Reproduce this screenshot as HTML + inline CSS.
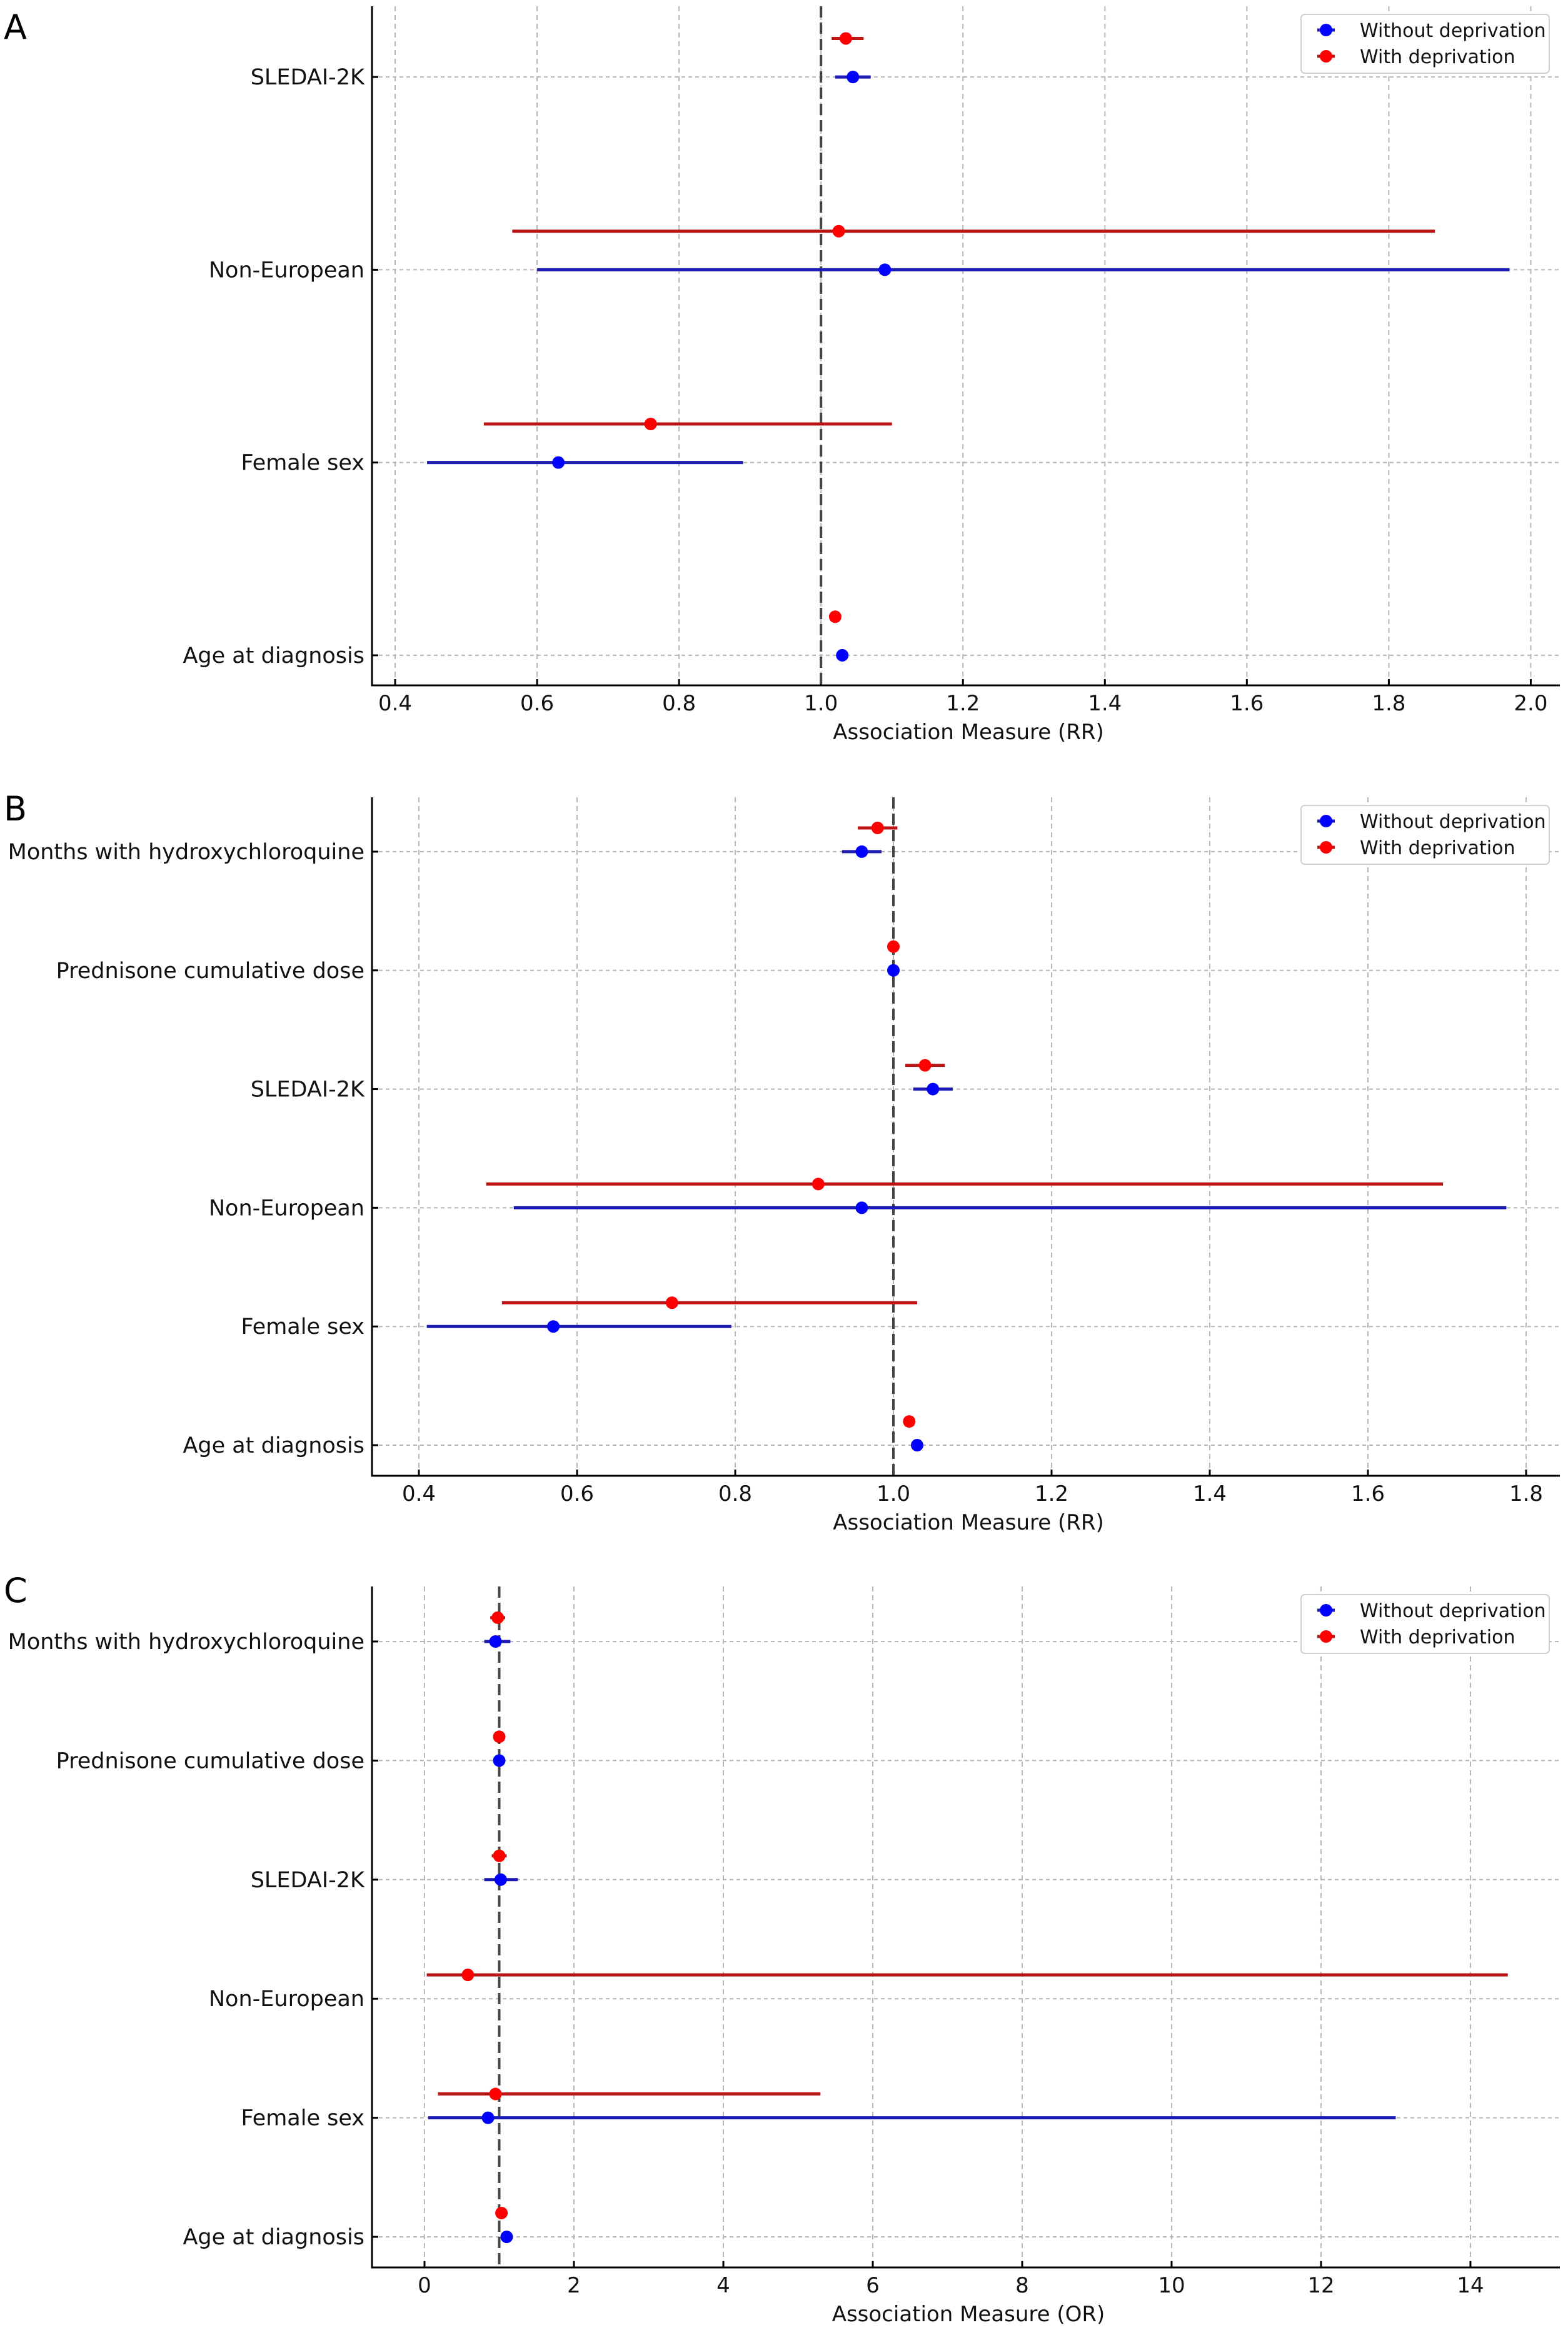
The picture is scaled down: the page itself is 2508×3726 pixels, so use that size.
<!DOCTYPE html>
<html><head><meta charset="utf-8"><style>
html,body{margin:0;padding:0;background:#fff;}
svg{display:block;font-family:"DejaVu Sans","Liberation Sans",sans-serif;}
</style></head>
<body>
<svg id="fig" width="2508" height="3726" viewBox="0 0 2508 3726" xmlns="http://www.w3.org/2000/svg"></svg>
<script>
// ---- Panel A data ----
const catsA = ["Age at diagnosis","Female sex","Non-European","SLEDAI-2K"];
const blueEstA = [1.03, 0.63, 1.09, 1.045];
const blueLoA  = [1.025, 0.445, 0.60, 1.02];
const blueHiA  = [1.035, 0.89, 1.97, 1.07];
const redEstA  = [1.02, 0.76, 1.025, 1.035];
const redLoA   = [1.015, 0.525, 0.565, 1.015];
const redHiA   = [1.025, 1.10, 1.865, 1.06];
const ticksA = [0.4,0.6,0.8,1.0,1.2,1.4,1.6,1.8,2.0];
const tickLabelsA = ["0.4","0.6","0.8","1.0","1.2","1.4","1.6","1.8","2.0"];
// ---- Panel B data ----
const catsB = ["Age at diagnosis","Female sex","Non-European","SLEDAI-2K","Prednisone cumulative dose","Months with hydroxychloroquine"];
const blueEstB = [1.03, 0.57, 0.96, 1.05, 1.0, 0.96];
const blueLoB  = [1.025, 0.41, 0.52, 1.025, 0.998, 0.935];
const blueHiB  = [1.035, 0.795, 1.775, 1.075, 1.002, 0.985];
const redEstB  = [1.02, 0.72, 0.905, 1.04, 1.0, 0.98];
const redLoB   = [1.015, 0.505, 0.485, 1.015, 0.998, 0.955];
const redHiB   = [1.025, 1.03, 1.695, 1.065, 1.002, 1.005];
const ticksB = [0.4,0.6,0.8,1.0,1.2,1.4,1.6,1.8];
const tickLabelsB = ["0.4","0.6","0.8","1.0","1.2","1.4","1.6","1.8"];
// ---- Panel C data ----
const catsC = ["Age at diagnosis","Female sex","Non-European","SLEDAI-2K","Prednisone cumulative dose","Months with hydroxychloroquine"];
const blueEstC = [1.1, 0.85, null, 1.02, 1.0, 0.95];
const blueLoC  = [1.05, 0.05, null, 0.8, 0.98, 0.8];
const blueHiC  = [1.15, 13.0, null, 1.25, 1.02, 1.15];
const redEstC  = [1.03, 0.95, 0.58, 1.0, 1.0, 0.98];
const redLoC   = [1.0, 0.18, 0.03, 0.9, 0.98, 0.88];
const redHiC   = [1.06, 5.3, 14.5, 1.1, 1.02, 1.08];
const ticksC = [0,2,4,6,8,10,12,14];
const tickLabelsC = ["0","2","4","6","8","10","12","14"];

const NS = "http://www.w3.org/2000/svg";
const svg = document.getElementById("fig");
function mk(tag, attrs, parent){
  const e = document.createElementNS(NS, tag);
  for (const k in attrs) e.setAttribute(k, attrs[k]);
  (parent||svg).appendChild(e);
  return e;
}

function panel(id, letter, letterY, geo, cats, bE, bL, bH, rE, rL, rH, ticks, tickLabels, xlabel){
  const g = mk("g", {});
  
  
  const xs = v => geo.left + (v - geo.xmin) / (geo.xmax - geo.xmin) * (geo.right - geo.left);
  const ys = v => geo.bottom - (v - geo.ymin) / (geo.ymax - geo.ymin) * (geo.bottom - geo.top);

  const lt = mk("text", {x: 6, y: letterY, "font-size": 54, fill: "#000"}, g);
  lt.textContent = letter;
  
  

  ticks.forEach((t, i) => {
    const x = xs(t);
    const gl = mk("line", {x1: x, x2: x, y1: geo.top, y2: geo.bottom, stroke: "#b5b5b5", "stroke-width": 2, "stroke-dasharray": "8,6"}, g);
    
    
    mk("line", {x1: x, x2: x, y1: geo.bottom, y2: geo.bottom - 10, stroke: "#000", "stroke-width": 3}, g);
    const tl = mk("text", {x: x, y: geo.bottom + 40, "font-size": 34, "text-anchor": "middle", fill: "#111"}, g);
    tl.textContent = tickLabels[i];
    
    
  });
  cats.forEach((c, i) => {
    const y = ys(i);
    const gl = mk("line", {x1: geo.left, x2: geo.right, y1: y, y2: y, stroke: "#b5b5b5", "stroke-width": 2, "stroke-dasharray": "6,5"}, g);
    
    
    mk("line", {x1: geo.left, x2: geo.left + 10, y1: y, y2: y, stroke: "#000", "stroke-width": 3}, g);
    const cl = mk("text", {x: geo.left - 12, y: y + 12, "font-size": 35, "text-anchor": "end", fill: "#111"}, g);
    cl.textContent = c;
    
    
  });
  const ref = mk("line", {x1: xs(1), x2: xs(1), y1: geo.top, y2: geo.bottom, stroke: "#444", "stroke-width": 4, "stroke-dasharray": "18,8"}, g);
  
  

  function series(E, L, H, off, lineCol, dotCol, nm){
    E.forEach((v, i) => {
      if (v === null) return;
      const y = ys(i + off);
      const ln = mk("line", {x1: xs(L[i]), x2: xs(H[i]), y1: y, y2: y, stroke: lineCol, "stroke-width": 5}, g);
      
      
      const d = mk("circle", {cx: xs(v), cy: y, r: 10, fill: dotCol}, g);
      
      
    });
  }
  series(bE, bL, bH, 0, "#1c1cb4", "#0000ff", "without-deprivation");
  series(rE, rL, rH, 0.2, "#bb1414", "#ff0000", "with-deprivation");

  mk("line", {x1: geo.left, x2: geo.left, y1: geo.top, y2: geo.bottom + 1.5, stroke: "#000", "stroke-width": 3}, g);
  mk("line", {x1: geo.left, x2: geo.right, y1: geo.bottom, y2: geo.bottom, stroke: "#000", "stroke-width": 3}, g);

  const xl = mk("text", {x: (geo.left + geo.right)/2 + 4, y: geo.bottom + 86, "font-size": 34, "text-anchor": "middle", fill: "#111"}, g);
  xl.textContent = xlabel;
  
  

  const lg = mk("g", {}, g);
  
  
  const ly = geo.top + 13;
  mk("rect", {x: 2081, y: ly, width: 397, height: 94, rx: 6, fill: "#fff", stroke: "#cfcfcf", "stroke-width": 2}, lg);
  [["Without deprivation", "#1c1cb4", "#0000ff"], ["With deprivation", "#bb1414", "#ff0000"]].forEach((e, i) => {
    const yy = ly + 25 + i * 42;
    const en = mk("g", {}, lg);
    
    
    mk("line", {x1: 2107, x2: 2135, y1: yy, y2: yy, stroke: e[1], "stroke-width": 5}, en);
    mk("circle", {cx: 2121, cy: yy, r: 10, fill: e[2]}, en);
    const t = mk("text", {x: 2175, y: yy + 11, "font-size": 30, fill: "#111"}, en);
    t.textContent = e[0];
  });
}

panel("a", "A", 62, {left: 595, right: 2495, top: 10, bottom: 1096, xmin: 0.3674, xmax: 2.041, ymin: -0.156, ymax: 3.367},
  catsA, blueEstA, blueLoA, blueHiA, redEstA, redLoA, redHiA, ticksA, tickLabelsA, "Association Measure (RR)");
panel("b", "B", 1312, {left: 595, right: 2495, top: 1275, bottom: 2360, xmin: 0.3407, xmax: 1.8427, ymin: -0.258, ymax: 5.458},
  catsB, blueEstB, blueLoB, blueHiB, redEstB, redLoB, redHiB, ticksB, tickLabelsB, "Association Measure (RR)");
panel("c", "C", 2562, {left: 595, right: 2495, top: 2537, bottom: 3626, xmin: -0.703, xmax: 15.197, ymin: -0.257, ymax: 5.462},
  catsC, blueEstC, blueLoC, blueHiC, redEstC, redLoC, redHiC, ticksC, tickLabelsC, "Association Measure (OR)");
</script>
</body></html>
